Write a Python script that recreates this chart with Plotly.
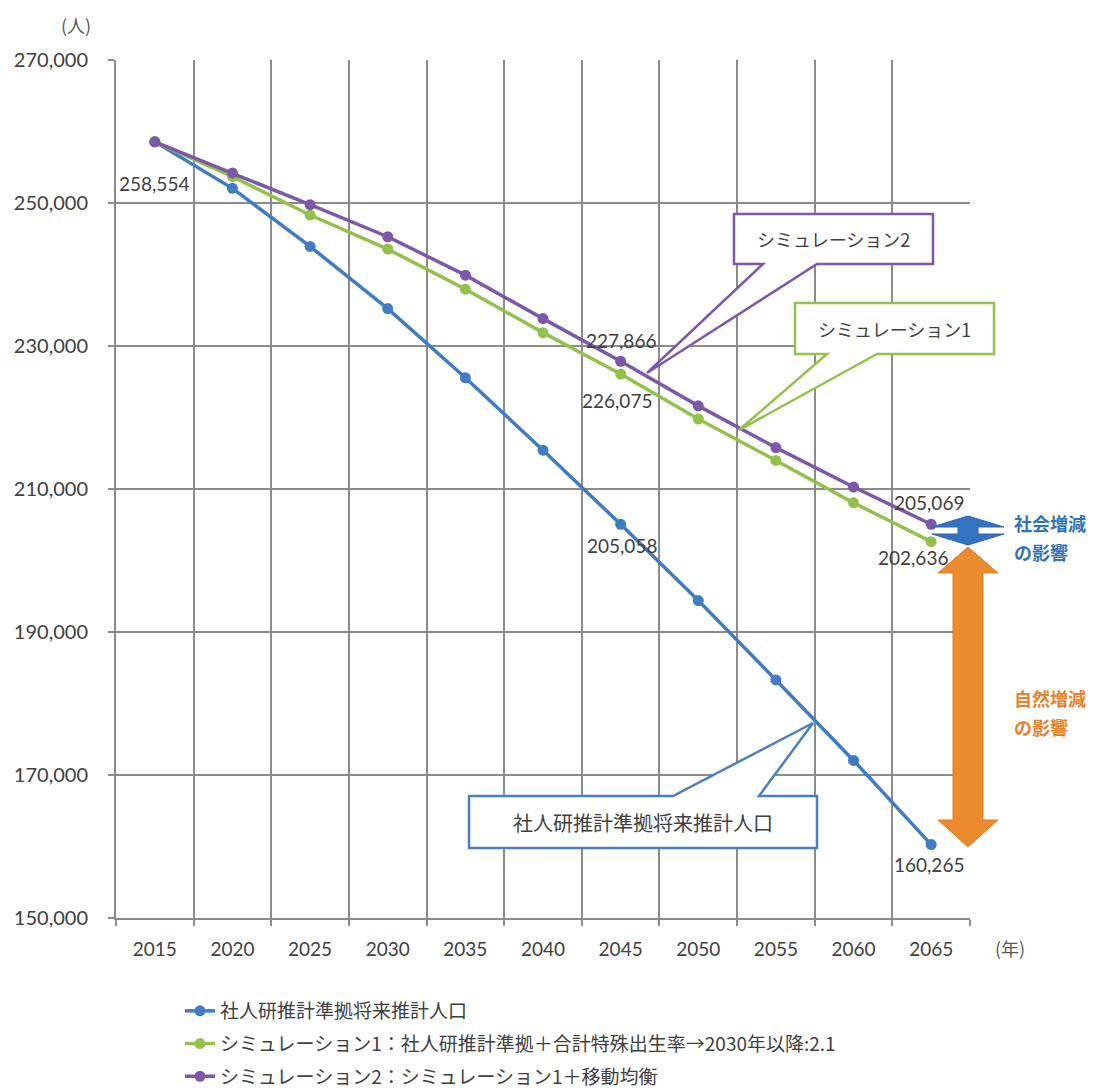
import plotly.graph_objects as go

# ---- data ----
years = ["2015", "2020", "2025", "2030", "2035", "2040", "2045", "2050", "2055", "2060", "2065"]
ipss = [258554, 252050, 243920, 235230, 225560, 215430, 205058, 194400, 183290, 172040, 160265]
sim1 = [258554, 253690, 248320, 243550, 237950, 231870, 226075, 219780, 213990, 208060, 202636]
sim2 = [258554, 254200, 249760, 245280, 239910, 233830, 227866, 221630, 215790, 210280, 205069]

series_names = [
    "社人研推計準拠将来推計人口",
    "シミュレーション1：社人研推計準拠＋合計特殊出生率→2030年以降:2.1",
    "シミュレーション2：シミュレーション1＋移動均衡",
]
colors = ["#3f7cc4", "#93c24c", "#7d58a9"]
y_ticks = [150000, 170000, 190000, 210000, 230000, 250000, 270000]

W, H = 1101, 1089
L, R, T, B = 116, 970, 60, 918


def px(x):
    return (x - L) / (R - L)


def py(y):
    return (B - y) / (B - T)


def poly(points):
    return "M " + " L ".join(f"{px(x):.5f},{py(y):.5f}" for x, y in points) + " Z"


NUMFONT = "Lato, 'Noto Sans CJK JP', sans-serif"
JPFONT = "'Noto Sans CJK JP', sans-serif"
TXT = "#404040"
GRID = "#8c8c8c"

fig = go.Figure()
for name, vals, col in zip(series_names, [ipss, sim1, sim2], colors):
    fig.add_trace(go.Scatter(
        x=years, y=vals, name=name, mode="lines+markers",
        line=dict(color=col, width=3.5),
        marker=dict(color=col, size=11, symbol="circle"),
        legendgroup=name,
    ))

# data labels: (series, index, xshift, yshift)
labels = [
    (ipss, 0, -1, -42),
    (sim2, 6, 0, 21),
    (sim1, 6, -4, -26),
    (ipss, 6, 1, -21),
    (sim2, 10, -2, 22),
    (sim1, 10, -18, -16),
    (ipss, 10, -2, -20),
]
annotations = []
for vals, i, xs, ys in labels:
    annotations.append(dict(
        x=i, y=vals[i], xref="x", yref="y", text=f"{vals[i]:,}",
        xanchor="center", yanchor="middle",
        showarrow=False, xshift=xs, yshift=ys,
        font=dict(family=NUMFONT, size=19, color=TXT),
    ))


def ptext(x, y, text, size, color, family=JPFONT, xanchor="center"):
    annotations.append(dict(x=px(x), y=py(y), xref="paper", yref="paper", text=text,
                            xanchor=xanchor, yanchor="middle", showarrow=False,
                            font=dict(family=family, size=size, color=color)))


# unit labels
ptext(76, 25, "(人)", 18, "#595959")
ptext(1010, 948, "(年)", 18, "#595959")

# callouts
shapes = []
shapes.append(dict(type="path", xref="paper", yref="paper", layer="above",
                   path=poly([(734, 214), (933, 214), (933, 264), (817, 264), (647, 373), (763, 264), (734, 264)]),
                   fillcolor="white", line=dict(color=colors[2], width=2.5)))
shapes.append(dict(type="path", xref="paper", yref="paper", layer="above",
                   path=poly([(795, 303), (994, 303), (994, 354), (877, 354), (739, 430), (827, 354), (795, 354)]),
                   fillcolor="white", line=dict(color=colors[1], width=2.5)))
shapes.append(dict(type="path", xref="paper", yref="paper", layer="above",
                   path=poly([(469, 796), (673, 796), (813, 723), (759, 796), (817, 796), (817, 848), (469, 848)]),
                   fillcolor="white", line=dict(color="#4a7fc0", width=2.5)))
ptext(833.5, 239, "シミュレーション2", 18, TXT)
ptext(894.5, 328.5, "シミュレーション1", 18, TXT)
ptext(643, 822, "社人研推計準拠将来推計人口", 20, TXT)

# arrows on the right
shapes.append(dict(type="path", xref="paper", yref="paper", layer="above",
                   path=poly([(968, 516), (1004, 527), (978, 527), (978, 534), (1004, 534), (968, 545),
                              (932, 534), (958, 534), (958, 527), (932, 527)]),
                   fillcolor="#3472c4", line=dict(color="#2f66b0", width=1)))
shapes.append(dict(type="path", xref="paper", yref="paper", layer="above",
                   path=poly([(968, 547), (998, 573), (983, 573), (983, 820), (998, 820), (968, 847),
                              (938, 820), (953, 820), (953, 573), (938, 573)]),
                   fillcolor="#ec8a2e", line=dict(color="#e07f22", width=1)))

for txt, y, col in [("社会増減", 523, "#2f74b9"), ("の影響", 552, "#2f74b9"),
                    ("自然増減", 698, "#e8822a"), ("の影響", 727, "#e8822a")]:
    ptext(1012, y, f"<b>{txt}</b>", 18, col, xanchor="left")

fig.update_layout(
    width=W, height=H,
    margin=dict(l=L, r=W - R, t=T, b=H - B, pad=0, autoexpand=False),
    paper_bgcolor="white", plot_bgcolor="white",
    font=dict(family=NUMFONT, color=TXT),
    showlegend=True,
    legend=dict(x=px(180), y=py(992), xanchor="left", yanchor="top",
                font=dict(family=JPFONT, size=19, color=TXT),
                traceorder="grouped", tracegroupgap=5, bgcolor="rgba(0,0,0,0)"),
    annotations=annotations,
    shapes=shapes,
)
fig.update_xaxes(
    type="category", range=[-0.5, len(years) - 0.5], autorange=False,
    tickson="boundaries", ticks="outside", ticklen=6, tickcolor=GRID, tickwidth=2,
    showgrid=True, gridcolor=GRID, gridwidth=2, showline=True, linecolor=GRID, linewidth=2,
    tickfont=dict(family=NUMFONT, size=19, color=TXT), ticklabelstandoff=13, tickangle=0,
    fixedrange=True,
)
fig.update_yaxes(
    range=[150000, 270000], tickvals=y_ticks, tickformat=",", ticks="outside", ticklen=6,
    tickcolor=GRID, tickwidth=2, showgrid=True, gridcolor=GRID, gridwidth=2,
    showline=True, linecolor=GRID, linewidth=2, zeroline=False,
    tickfont=dict(family=NUMFONT, size=20, color=TXT), ticklabelstandoff=16, fixedrange=True,
)

fig.write_html("out.html", config={"displayModeBar": False},
               post_script="document.body.style.margin='0';document.body.style.overflow='hidden';")
